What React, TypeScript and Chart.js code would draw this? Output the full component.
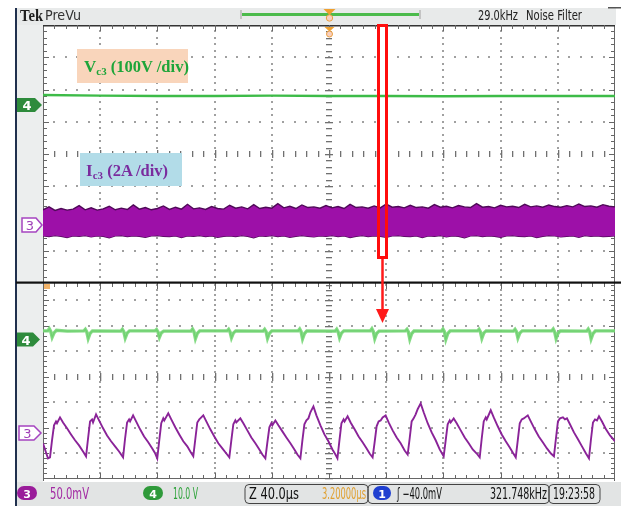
import React, { useEffect, useRef } from 'react';
import { Chart, registerables } from 'chart.js';

Chart.register(...registerables);

// ---------------- data (graticule divisions) ----------------
// Upper window: long record, x in divisions (0..10)
const vc3TopX = [0, 1, 2, 3, 4, 5, 6, 7, 8, 9, 10];
const vc3TopDiv = [5.83, 5.81, 5.8, 5.8, 5.81, 5.8, 5.8, 5.79, 5.8, 5.8, 5.8];

// envelope of the compressed Ic3 switching ripple (evenly spaced samples across the record)
const ic3TopUpper = [
  2.27, 2.36, 2.25, 2.31, 2.26, 2.29, 2.4, 2.27, 2.33, 2.26, 2.3, 2.38, 2.27, 2.32, 2.28, 2.42,
  2.29, 2.34, 2.27, 2.31, 2.39, 2.28, 2.35, 2.29, 2.44, 2.3, 2.33, 2.28, 2.37, 2.31, 2.29, 2.41,
  2.32, 2.36, 2.3, 2.43, 2.31, 2.35, 2.32, 2.46, 2.33, 2.38, 2.31, 2.42, 2.34, 2.36, 2.32, 2.4,
  2.33, 2.37, 2.31, 2.44, 2.34, 2.36, 2.32, 2.39, 2.33, 2.45, 2.35, 2.37, 2.33, 2.41, 2.34, 2.36,
  2.32, 2.43, 2.35, 2.38, 2.33, 2.4, 2.36, 2.34, 2.46, 2.35, 2.37, 2.33, 2.41, 2.36, 2.38, 2.34,
  2.44, 2.36, 2.39, 2.35, 2.42, 2.37, 2.35, 2.4, 2.36, 2.45, 2.37, 2.39, 2.35, 2.43, 2.38, 2.36,
];
const ic3TopLower = [
  1.46, 1.44, 1.47, 1.45, 1.41, 1.46, 1.45, 1.47, 1.43, 1.46, 1.45, 1.4, 1.46, 1.47, 1.44, 1.46,
  1.45, 1.42, 1.46, 1.47, 1.45, 1.44, 1.46, 1.41, 1.46, 1.45, 1.47, 1.44, 1.46, 1.42, 1.45, 1.46,
  1.44, 1.47, 1.45, 1.4, 1.46, 1.45, 1.47, 1.44, 1.46, 1.42, 1.45, 1.47, 1.45, 1.43, 1.46, 1.45,
  1.47, 1.44, 1.46, 1.41, 1.45, 1.47, 1.44, 1.46, 1.45, 1.42, 1.46, 1.47, 1.45, 1.44, 1.46, 1.41,
  1.46, 1.45, 1.47, 1.43, 1.46, 1.45, 1.4, 1.46, 1.47, 1.44, 1.46, 1.45, 1.42, 1.46, 1.47, 1.45,
  1.44, 1.46, 1.41, 1.45, 1.47, 1.46, 1.43, 1.45, 1.46, 1.42, 1.47, 1.45, 1.46, 1.44, 1.45, 1.46,
];

// Zoom window: 40 µs/div, 0..400 µs. Pairs [time µs, divisions]
const vc3Zoom: [number, number][] = [
  [0, 5.8],
  [3.4, 5.8], [4.4, 5.88], [5.4, 5.78], [6.4, 5.55], [7.7, 5.72], [9.4, 5.82], [17, 5.79],
  [28.6, 5.8], [29.6, 5.86], [30.6, 5.76], [31.6, 5.5], [32.9, 5.7], [34.6, 5.8],
  [54.5, 5.79], [55.5, 5.86], [56.5, 5.77], [57.5, 5.52], [58.8, 5.71], [60.5, 5.8],
  [78.4, 5.8], [79.4, 5.85], [80.4, 5.76], [81.4, 5.55], [82.7, 5.72], [84.4, 5.79],
  [103.6, 5.79], [104.6, 5.87], [105.6, 5.77], [106.6, 5.5], [107.9, 5.7], [109.6, 5.8],
  [128.8, 5.8], [129.8, 5.86], [130.8, 5.76], [131.8, 5.53], [133.1, 5.71], [134.8, 5.8],
  [154.0, 5.79], [155.0, 5.86], [156.0, 5.77], [157.0, 5.51], [158.3, 5.7], [160.0, 5.8],
  [178.5, 5.8], [179.5, 5.87], [180.5, 5.77], [181.5, 5.49], [182.8, 5.69], [184.5, 5.8],
  [204.4, 5.79], [205.4, 5.86], [206.4, 5.76], [207.4, 5.53], [208.7, 5.71], [210.4, 5.8],
  [229.0, 5.8], [230.0, 5.88], [231.0, 5.77], [232.0, 5.5], [233.3, 5.7], [235.0, 5.79],
  [253.5, 5.8], [254.5, 5.86], [255.5, 5.76], [256.5, 5.48], [257.8, 5.69], [259.5, 5.8],
  [278.7, 5.79], [279.7, 5.87], [280.7, 5.77], [281.7, 5.47], [283.0, 5.69], [284.7, 5.8],
  [303.9, 5.8], [304.9, 5.86], [305.9, 5.76], [306.9, 5.51], [308.2, 5.71], [309.9, 5.8],
  [329.1, 5.79], [330.1, 5.86], [331.1, 5.77], [332.1, 5.52], [333.4, 5.71], [335.1, 5.8],
  [355.8, 5.8], [356.8, 5.87], [357.8, 5.76], [358.8, 5.5], [360.1, 5.7], [361.8, 5.8],
  [380.3, 5.79], [381.3, 5.87], [382.3, 5.77], [383.3, 5.49], [384.6, 5.69], [386.3, 5.8],
  [400, 5.8],
];

const ic3Zoom: [number, number][] = [
  [0, 1.38], [2.1, 1.02], [3.5, 0.79], [4.9, 0.83],
  [6.3, 1.5], [7.7, 2.09], [9.1, 2.24], [9.8, 2.17], [11.9, 2.4], [14.0, 2.2], [16.8, 1.97], [19.6, 1.73], [22.4, 1.5], [25.2, 1.3], [28.0, 1.06], [30.1, 0.87],
  [31.5, 1.57], [32.9, 2.24], [34.3, 2.32], [35.0, 2.2], [37.1, 2.52], [39.2, 2.28], [42.0, 1.97], [44.8, 1.69], [47.6, 1.46], [50.4, 1.26], [53.2, 1.06], [56.0, 0.83],
  [57.4, 1.57], [58.8, 2.2], [60.2, 2.32], [60.9, 2.24], [63.0, 2.48], [65.1, 2.24], [67.9, 1.93], [70.7, 1.65], [73.6, 1.42], [76.4, 1.18], [78.5, 0.98], [79.9, 0.79],
  [81.3, 1.5], [82.7, 2.17], [84.1, 2.36], [84.8, 2.28], [87.6, 2.56], [89.7, 2.32], [92.5, 2.01], [95.3, 1.73], [98.1, 1.46], [100.9, 1.26], [103.0, 1.06], [105.1, 0.87],
  [106.5, 1.54], [107.9, 2.2], [109.3, 2.32], [110.0, 2.36], [112.1, 2.48], [114.2, 2.24], [117.0, 1.93], [119.8, 1.65], [122.6, 1.38], [125.4, 1.18], [128.2, 0.98], [130.3, 0.83],
  [131.7, 1.5], [133.1, 2.13], [134.5, 2.28], [135.2, 2.2], [138.0, 2.36], [140.1, 2.17], [142.9, 1.89], [145.7, 1.61], [148.5, 1.38], [151.3, 1.14], [153.4, 0.94], [155.5, 0.79],
  [156.9, 1.42], [158.3, 2.01], [159.7, 2.17], [160.4, 2.09], [162.5, 2.28], [164.6, 2.09], [167.4, 1.85], [170.2, 1.61], [173.0, 1.38], [175.8, 1.14], [177.9, 0.94], [180.0, 0.79],
  [181.4, 1.5], [182.8, 2.13], [184.2, 2.28], [185.6, 2.36], [187.0, 2.6], [189.1, 2.83], [191.2, 2.48], [194.0, 2.09], [196.8, 1.73], [199.6, 1.46], [202.4, 1.14], [204.5, 0.94], [205.9, 0.79],
  [207.3, 1.5], [208.7, 2.17], [210.2, 2.32], [210.9, 2.24], [213.0, 2.44], [215.1, 2.2], [217.9, 1.93], [220.7, 1.65], [223.5, 1.42], [226.3, 1.18], [228.4, 0.98], [230.5, 0.83],
  [231.9, 1.42], [233.3, 2.05], [234.7, 2.24], [236.1, 2.28], [237.5, 2.4], [239.6, 2.48], [241.7, 2.2], [244.5, 1.89], [247.3, 1.61], [250.1, 1.38], [252.9, 1.1], [255.0, 0.94],
  [256.4, 1.57], [257.8, 2.24], [259.2, 2.36], [260.6, 2.52], [262.0, 2.72], [264.1, 2.95], [266.2, 2.6], [269.0, 2.17], [271.8, 1.81], [274.6, 1.5], [277.4, 1.14], [280.2, 0.87],
  [281.6, 1.5], [283.0, 2.13], [284.4, 2.28], [285.1, 2.2], [287.2, 2.36], [289.3, 2.17], [292.1, 1.89], [294.9, 1.61], [297.7, 1.38], [300.5, 1.14], [303.3, 0.98], [305.4, 0.83],
  [306.8, 1.57], [308.2, 2.24], [309.6, 2.4], [310.3, 2.32], [313.1, 2.68], [315.2, 2.4], [318.0, 2.05], [320.8, 1.73], [323.6, 1.46], [326.4, 1.22], [328.5, 1.02], [330.6, 0.83],
  [332.0, 1.5], [333.4, 2.17], [334.8, 2.32], [336.2, 2.36], [339.0, 2.48], [341.1, 2.24], [343.9, 1.93], [346.7, 1.65], [349.5, 1.42], [352.4, 1.18], [355.2, 0.98], [357.3, 0.87],
  [358.7, 1.57], [360.1, 2.24], [361.5, 2.36], [363.6, 2.4], [365.0, 2.32], [366.4, 2.36], [368.5, 2.13], [371.3, 1.81], [374.1, 1.54], [376.9, 1.26], [379.7, 0.98], [381.8, 0.79],
  [383.2, 1.54], [384.6, 2.2], [386.0, 2.32], [387.4, 2.28], [388.8, 2.44], [390.9, 2.24], [393.7, 1.93], [396.5, 1.69], [400.0, 1.46],
];

// ---------------- graticule plugin ----------------
const scopeGrid = {
  id: 'scopeGrid',
  beforeDatasetsDraw(chart: any, _args: any, o: any) {
    const { ctx, chartArea: a } = chart;
    const xs = chart.scales.x;
    const ys = chart.scales.y;
    const xDivs = o.xDivs as number;
    const xUnit = (xs.max - xs.min) / xDivs;
    const X = (d: number) => Math.round(xs.getPixelForValue(xs.min + d * xUnit));
    const Y = (v: number) => Math.round(ys.getPixelForValue(v));
    const yLo = Math.ceil(ys.min * 5 - 1e-6);
    const yHi = Math.floor(ys.max * 5 + 1e-6);
    ctx.save();
    ctx.fillStyle = '#a0a0a0';
    for (const r of o.rows as number[]) {
      if (r === o.cy) continue;
      const py = Y(r);
      for (let k = 1; k < xDivs * 5; k++) ctx.fillRect(X(k / 5) - 1, py - 1, 2, 2);
    }
    for (let c = 1; c < xDivs; c++) {
      if (c === o.cx) continue;
      const px = X(c);
      for (let k = yLo; k <= yHi; k++) ctx.fillRect(px - 1, Y(k / 5) - 1, 2, 2);
    }
    ctx.fillStyle = '#707070';
    const pcx = X(o.cx);
    for (let k = yLo; k <= yHi; k++) {
      const w = k % 5 === 0 ? 8 : 6;
      ctx.fillRect(pcx - w / 2, Y(k / 5), w, 1.3);
    }
    const pcy = Y(o.cy);
    for (let k = 1; k < xDivs * 5; k++) {
      const h = k % 5 === 0 ? 8 : 6;
      ctx.fillRect(X(k / 5), pcy - h / 2, 1.3, h);
    }
    ctx.fillStyle = '#666';
    const L = X(0);
    const R = X(xDivs) - 1;
    ctx.fillRect(L, a.top, 1, a.bottom - a.top);
    ctx.fillRect(R, a.top, 1, a.bottom - a.top);
    for (let k = yLo; k <= yHi; k++) {
      const len = k % 5 === 0 ? 6 : 4;
      const py = Y(k / 5);
      ctx.fillRect(L, py, len, 1);
      ctx.fillRect(R - len + 1, py, len, 1);
    }
    ctx.fillStyle = '#333';
    if (o.topRuler) ctx.fillRect(L, a.top, R - L + 1, 1.5);
    ctx.fillStyle = '#666';
    for (let k = 1; k < xDivs * 5; k++) {
      const len = k % 5 === 0 ? 6 : 4;
      ctx.fillRect(X(k / 5), a.top, 1, len);
    }
    if (o.bottomRuler !== undefined && o.bottomRuler !== null) {
      const py = Y(o.bottomRuler);
      ctx.fillRect(L, py, R - L + 1, 1);
      for (let k = 1; k < xDivs * 5; k++) {
        const len = k % 5 === 0 ? 6 : 4;
        ctx.fillRect(X(k / 5), py - len + 1, 1, len);
      }
    }
    ctx.restore();
  },
};

const baseOptions = (xMin: number, xMax: number, yMin: number, yMax: number, grid: any) => ({
  animation: false as const,
  responsive: false,
  maintainAspectRatio: false,
  events: [] as any[],
  layout: { padding: 0 },
  plugins: { legend: { display: false }, tooltip: { enabled: false }, scopeGrid: grid },
  elements: { point: { radius: 0 }, line: { tension: 0 } },
  scales: {
    x: { type: 'linear' as const, min: xMin, max: xMax, display: false },
    y: { type: 'linear' as const, min: yMin, max: yMax, display: false },
  },
});

const NARROW = "'Liberation Sans Narrow','Arial Narrow','DejaVu Sans Condensed',sans-serif";
const SERIF = "'Liberation Serif','Times New Roman','DejaVu Serif',serif";
const MARK = "'DejaVu Sans',sans-serif";

export default function App() {
  const topRef = useRef<HTMLCanvasElement>(null);
  const botRef = useRef<HTMLCanvasElement>(null);

  useEffect(() => {
    const n = ic3TopUpper.length - 1;
    const top = new Chart(topRef.current as HTMLCanvasElement, {
      type: 'line',
      data: {
        datasets: [
          {
            label: 'Vc3',
            data: vc3TopX.map((x, i) => ({ x, y: vc3TopDiv[i] })),
            borderColor: '#3dbb48',
            borderWidth: 2.4,
            fill: false,
          },
          {
            label: 'Ic3 max',
            data: ic3TopUpper.map((y, i) => ({ x: (i * 10) / n, y })),
            borderColor: '#4f0a58',
            borderWidth: 1.4,
            backgroundColor: '#9d10a8',
            fill: '+1',
          },
          {
            label: 'Ic3 min',
            data: ic3TopLower.map((y, i) => ({ x: (i * 10) / n, y })),
            borderColor: '#4f0a58',
            borderWidth: 1.4,
            fill: false,
          },
        ],
      },
      options: baseOptions(0, 10, 0, 8, { xDivs: 10, rows: [1, 2, 3, 4, 5, 6, 7], cx: 5, cy: 4, topRuler: true }) as any,
      plugins: [scopeGrid],
    });

    const bot = new Chart(botRef.current as HTMLCanvasElement, {
      type: 'line',
      data: {
        datasets: [
          {
            label: 'Vc3 halo',
            data: vc3Zoom.map(([x, y]) => ({ x, y })),
            borderColor: 'rgba(120,215,120,0.9)',
            borderWidth: 3.4,
            fill: false,
          },
          {
            label: 'Vc3',
            data: vc3Zoom.map(([x, y]) => ({ x, y })),
            borderColor: '#23962f',
            borderWidth: 1.2,
            fill: false,
          },
          {
            label: 'Ic3',
            data: ic3Zoom.map(([x, y]) => ({ x, y })),
            borderColor: '#8a2398',
            borderWidth: 1.9,
            fill: false,
          },
        ],
      },
      options: baseOptions(0, 400, -0.1, 7.68, { xDivs: 10, rows: [1, 2, 3, 4, 5, 6, 7], cx: 5, cy: 4, topRuler: false, bottomRuler: 0 }) as any,
      plugins: [scopeGrid],
    });

    return () => {
      top.destroy();
      bot.destroy();
    };
  }, []);

  const statusText = (x: number, w: number, s: string, fill: string, anchor: 'start' | 'end' = 'start') => (
    <text x={x} y={499} fontFamily={NARROW} fontSize={15} fill={fill} textLength={w} lengthAdjust="spacingAndGlyphs" textAnchor={anchor}>
      {s}
    </text>
  );

  return (
    <div style={{ position: 'fixed', left: 0, top: 0, width: 621, height: 506, background: '#fff', overflow: 'hidden' }}>
      <div style={{ position: 'absolute', left: 16, top: 8, width: 600, height: 17, background: '#e8eaea' }} />
      <div style={{ position: 'absolute', left: 16, top: 25, width: 27, height: 458, background: '#eceeee' }} />
      <div style={{ position: 'absolute', left: 16, top: 482, width: 605, height: 24, background: '#e2e4e4' }} />
      <canvas ref={topRef} width={572} height={258} style={{ position: 'absolute', left: 43, top: 25 }} />
      <canvas ref={botRef} width={572} height={198} style={{ position: 'absolute', left: 43, top: 283 }} />
      <svg width={621} height={506} style={{ position: 'absolute', left: 0, top: 0, pointerEvents: 'none' }}>
        {/* frame */}
        <rect x={15} y={8} width={2} height={498} fill="#20304e" />
        <rect x={16} y={281.5} width={605} height={2.2} fill="#111" />
        <rect x={608} y={7} width={13} height={1.5} fill="#555" />

        {/* header */}
        <text x={20} y={20.5} fontFamily={SERIF} fontWeight="bold" fontSize={17} fill="#1e1e1e" textLength={23} lengthAdjust="spacingAndGlyphs">Tek</text>
        <text x={45} y={20} fontFamily={NARROW} fontSize={14} fill="#333" textLength={36} lengthAdjust="spacingAndGlyphs">PreVu</text>
        <rect x={240} y={10} width={2} height={9} fill="#c4c4c4" />
        <rect x={419} y={10} width={2} height={9} fill="#c4c4c4" />
        <rect x={242} y={13} width={177} height={3} fill="#4cbb4c" />
        <path d="M323.5,9 L335.5,9 L329.5,15 Z" fill="#eea030" />
        <circle cx={329.5} cy={18} r={3.2} fill="#f7cfc0" stroke="#eaa040" strokeWidth={1} />
        <text x={478} y={20} fontFamily={NARROW} fontSize={14} fill="#222" textLength={40} lengthAdjust="spacingAndGlyphs">29.0kHz</text>
        <text x={526} y={20} fontFamily={NARROW} fontSize={14} fill="#222" textLength={56} lengthAdjust="spacingAndGlyphs">Noise Filter</text>

        {/* trigger position markers */}
        <path d="M324.5,27 L334.5,27 L329.5,31.5 Z" fill="#eea030" />
        <circle cx={329.5} cy={34} r={3} fill="#f7cfc0" stroke="#eaa040" strokeWidth={1} />
        <rect x={44} y={284} width={6} height={5} fill="#f2b46a" />

        {/* channel labels */}
        <rect x={77} y={49} width={111} height={34} fill="#f9d5bb" />
        <text x={84} y={72} fontFamily={SERIF} fontWeight="bold" fontSize={17} fill="#1ea53a">
          V<tspan fontSize={11} dy={3}>c3</tspan>
          <tspan dy={-3} fontSize={16.5}> (100V /div)</tspan>
        </text>
        <rect x={80} y={153} width={102} height={33} fill="#b2dce8" />
        <text x={86} y={176} fontFamily={SERIF} fontWeight="bold" fontSize={17} fill="#7a2c9e">
          I<tspan fontSize={11} dy={3}>c3</tspan>
          <tspan dy={-3} fontSize={16.5}> (2A /div)</tspan>
        </text>

        {/* channel ground markers */}
        <path d="M17,98 L35,98 L42,105 L35,112 L17,112 Z" fill="#2e8b3c" />
        <text x={27} y={110} textAnchor="middle" fontFamily={MARK} fontSize={13} fontWeight="bold" fill="#fff">4</text>
        <path d="M22,218 L36,218 L42,225 L36,232 L22,232 Z" fill="#fff" stroke="#a544c0" strokeWidth={1.5} />
        <text x={30} y={230} textAnchor="middle" fontFamily={MARK} fontSize={13} fill="#a040b8">3</text>
        <path d="M17,332.5 L33,332.5 L40,339.5 L33,346.5 L17,346.5 Z" fill="#2e8b3c" />
        <text x={26} y={344.5} textAnchor="middle" fontFamily={MARK} fontSize={13} fontWeight="bold" fill="#fff">4</text>
        <path d="M19,426 L34,426 L41,433 L34,440 L19,440 Z" fill="#fff" stroke="#a544c0" strokeWidth={1.5} />
        <text x={27.5} y={438} textAnchor="middle" fontFamily={MARK} fontSize={13} fill="#a040b8">3</text>

        {/* zoom annotation */}
        <rect x={378.5} y={25.5} width={8} height={232} fill="none" stroke="#ff0d0d" strokeWidth={3} />
        <line x1={382.5} y1={259} x2={382.5} y2={311} stroke="#ff1a1a" strokeWidth={2.5} />
        <path d="M376,309 L389,309 L382.5,323 Z" fill="#ff1a1a" />

        {/* status bar */}
        <rect x={17} y={486} width={20} height={14} rx={7} fill="#9a1c9a" />
        <text x={27} y={497.5} textAnchor="middle" fontFamily={MARK} fontSize={11} fontWeight="bold" fill="#fff">3</text>
        {statusText(50, 39, '50.0mV', '#a32aa3')}
        <rect x={143} y={486} width={20} height={14} rx={7} fill="#2f9a3a" />
        <text x={153} y={497.5} textAnchor="middle" fontFamily={MARK} fontSize={11} fontWeight="bold" fill="#fff">4</text>
        {statusText(173, 25, '10.0 V', '#2ea33a')}
        <rect x={245} y={484.5} width={123} height={19} rx={4} fill="none" stroke="#444" strokeWidth={1} />
        {statusText(249, 50, 'Z 40.0µs', '#111')}
        {statusText(366, 44, '3.20000µs', '#e0a030', 'end')}
        <rect x={368} y={484.5} width={181} height={19} rx={4} fill="none" stroke="#444" strokeWidth={1} />
        <rect x={373} y={486} width={18} height={14} rx={7} fill="#1f3fd0" />
        <text x={382} y={497.5} textAnchor="middle" fontFamily={MARK} fontSize={11} fontWeight="bold" fill="#fff">1</text>
        {statusText(397, 45, 'ʃ −40.0mV', '#111')}
        {statusText(547, 57, '321.748kHz', '#111', 'end')}
        <rect x={549} y={484.5} width={51} height={19} rx={4} fill="none" stroke="#444" strokeWidth={1} />
        {statusText(553, 42, '19:23:58', '#111')}
      </svg>
    </div>
  );
}
